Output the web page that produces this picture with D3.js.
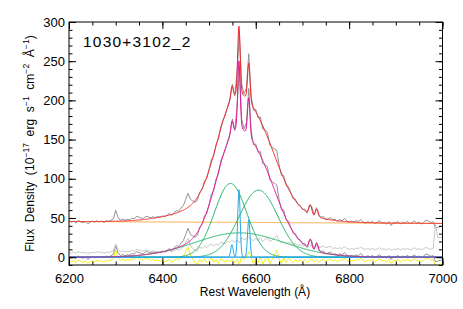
<!DOCTYPE html>
<html>
<head>
<meta charset="utf-8">
<script src="https://cdn.jsdelivr.net/npm/d3@7"></script>
<style>
  body { margin: 0; background: #fff; }
  svg text { font-family: "Liberation Sans", Arial, sans-serif; fill: #000; }
  .frame { fill: none; stroke: #000; stroke-width: 1; }
  .axis path { display: none; }
  .axis line { stroke: #000; }
  .curve { fill: none; stroke-width: 1; stroke-linejoin: round; }
</style>
</head>
<body>
<svg id="chart" width="463" height="309"></svg>
<script>
// spectrum sampled every 5 A, 6200..7000
const waveStart = 6200;
const waveStep = 5;

// fit residual (data - model)
const residual = [
  1, -1, 0.5, -2, 1.5, -0.5, -1.5, 0, -3, -1, 0.5, -1, 1, -0.5, 0.5, -1.5, 1, 0, 1.5, 3,
  14, 5, 1, 2.5, 0.5, 2, 1, 3, 2, 5, 3.5, 2, 1.5, 4, 2.5, 1, 2, 0.5, 1.5, -0.5,
  1, -1, 0.5, 2, -1.5, 1, 3, 1, 4, 6, 12, 18, 8, 3, -2, -4, 2, -1, 3, -2,
  1, 4, -2, 2, -3, 3, 1, -2, 2, -1, 3, -2, 2, -4, 6, 2, 5, 12, 4, -3,
  3, -2, 5, -4, 2, 6, -3, 2, 8, 14, 3, -3, 4, -2, 3, 1, -2, 2, -1, 1.5,
  -1, 2, -2, 1, 3, -1, 2, -2, 1, 2.5, -1, 1, 3, 0, 1.5, -1, 2, 0.5, 4, 1,
  -0.5, 1, 0, 2, 1, 4, 0.5, -1, 1.5, 0, 2, -1, 1, 3, 0, 1, -1.5, 2, -3, 1,
  0.5, 2, -1, 1.5, 0, 2.5, -0.5, 1, 3, 0, 1.5, -1, 2, 4, 3, 1, 2, -6, -5, -4,
  -4
];

// light gray trace, same sampling
const lightFlux = [
  6, 5, 6.5, 5, 7, 6, 5.5, 6, 4.5, 5.5, 6, 5.5, 7, 6, 6.5, 5, 6.5, 6, 7, 8,
  17, 10, 7, 8, 6.5, 7.5, 7, 8.5, 7.5, 10, 9, 8, 7.5, 9.5, 8, 7, 8, 7, 7.5, 6.5,
  7, 6, 7.5, 8.5, 6.5, 8, 10, 9, 11, 13, 18, 24, 15, 11, 9, 8, 13, 11, 14, 12,
  15, 17, 14, 17, 15, 19, 18, 17, 20, 19, 22, 19, 22, 18, 25, 22, 24, 26, 23, 21,
  24, 21, 25, 20, 23, 25, 20, 22, 24, 28, 21, 18, 20, 17, 19, 18, 16, 17, 15, 16,
  14, 15, 13, 14, 15, 13, 14, 12, 13, 14, 12, 13, 14, 11, 12, 11, 12, 11, 13, 11,
  10, 11, 10, 11.5, 11, 13, 10.5, 10, 11, 10, 11, 9.5, 10.5, 12, 10, 10.5, 9, 11, 8.5, 10,
  10, 11, 9.5, 10.5, 10, 11.5, 9.5, 10, 12, 10, 10.5, 9.5, 11, 12.5, 11, 10, 11, 42, 25, 25,
  25
];
const residualOffset = -5;

// continuum (linear)
const contWave = [6200, 7000];
const contFlux = [45.5, 43];

// broad Halpha gaussians
const broadCenter = [6546, 6606, 6565];
const broadAmp = [94, 85.5, 31];
const broadSigma = [34.5, 41.6, 95];

// narrow lines ([NII]6548, Ha, [NII]6583)
const narrowCenter = [6549, 6564, 6585];
const narrowAmp = [16, 86, 48];
const narrowSigma = [2.6, 2.6, 2.6];

// [SII] doublet
const siiCenter = [6717, 6731];
const siiAmp = [12, 10];
const siiSigma = [3, 3];

const xMajor = [6200, 6400, 6600, 6800, 7000];
const yMajor = [0, 50, 100, 150, 200, 250, 300];
const title = "1030+3102_2";

const svg = d3.select("#chart");
const margin = { left: 69, right: 20.5, top: 22, bottom: 44 };
const W = 463, H = 309;
const x = d3.scaleLinear().domain([6200, 7000]).range([margin.left, W - margin.right]);
const y = d3.scaleLinear().domain([-10, 300]).range([H - margin.bottom, margin.top]);

const gauss = (w, c, a, s) => a * Math.exp(-((w - c) ** 2) / (2 * s * s));
const cont = d3.scaleLinear().domain(contWave).range(contFlux);

const grid = d3.range(6200, 7000.5, 1);
const lineModel = (w) => {
  let v = 0;
  broadCenter.forEach((c, i) => (v += gauss(w, c, broadAmp[i], broadSigma[i])));
  narrowCenter.forEach((c, i) => (v += gauss(w, c, narrowAmp[i], narrowSigma[i])));
  siiCenter.forEach((c, i) => (v += gauss(w, c, siiAmp[i], siiSigma[i])));
  return v;
};

const specWave = residual.map((_, i) => waveStart + i * waveStep);

svg.append("clipPath").attr("id", "plot-clip")
  .append("rect")
  .attr("x", x(6200)).attr("y", y(300))
  .attr("width", x(7000) - x(6200)).attr("height", y(-10) - y(300));

const plot = svg.append("g").attr("clip-path", "url(#plot-clip)");
const line = d3.line().x((d) => x(d[0])).y((d) => y(d[1]));

function draw(points, color, width = 1) {
  plot.append("path").attr("class", "curve").attr("stroke", color)
    .attr("stroke-width", width).attr("d", line(points));
}

// observed spectrum and continuum-subtracted spectrum
draw(specWave.map((w, i) => [w, lineModel(w) + cont(w) + residual[i]]), "#939393");
draw(specWave.map((w, i) => [w, lineModel(w) + residual[i]]), "#939393");
draw(specWave.map((w, i) => [w, lightFlux[i]]), "#c8c8c8");
draw(specWave.map((w, i) => [w, residual[i] + residualOffset]), "#f2ee10");

draw(grid.map((w) => [w, cont(w)]), "#f9a53c", 1.1);

broadCenter.forEach((c, i) => {
  draw(grid.map((w) => [w, gauss(w, c, broadAmp[i], broadSigma[i])]), "#22b066");
});
narrowCenter.forEach((c, i) => {
  draw(grid.map((w) => [w, gauss(w, c, narrowAmp[i], narrowSigma[i])]), "#26a8e6");
});

draw(grid.map((w) => [w, lineModel(w)]), "#e3189a", 1.2);
draw(grid.map((w) => [w, lineModel(w) + cont(w)]), "#f0282e", 1.2);

// axes: inward ticks on all four sides
const xMinor = d3.range(6200, 7001, 50);
const yMinor = d3.range(-10, 301, 10);
const plotBottom = H - margin.bottom, plotTop = margin.top;
const plotLeft = margin.left, plotRight = W - margin.right;

function ticks(gen, values, size, pos, labels) {
  const g = svg.append("g").attr("class", "axis").attr("transform", pos)
    .call(gen.tickValues(values).tickSize(size).tickFormat(labels ? d3.format("d") : ""));
  return g;
}

ticks(d3.axisBottom(x), xMinor, -3.5, `translate(0,${plotBottom})`, false);
ticks(d3.axisBottom(x), xMajor, -7, `translate(0,${plotBottom})`, true)
  .selectAll("text").attr("font-size", 13).attr("y", 9).attr("dy", "0.71em");
ticks(d3.axisTop(x), xMinor, -3.5, `translate(0,${plotTop})`, false);
ticks(d3.axisTop(x), xMajor, -7, `translate(0,${plotTop})`, false);

ticks(d3.axisLeft(y), yMinor, -3.5, `translate(${plotLeft},0)`, false);
ticks(d3.axisLeft(y), yMajor, -7, `translate(${plotLeft},0)`, true)
  .selectAll("text").attr("font-size", 13).attr("x", -4);
ticks(d3.axisRight(y), yMinor, -3.5, `translate(${plotRight},0)`, false);
ticks(d3.axisRight(y), yMajor, -7, `translate(${plotRight},0)`, false);

svg.selectAll(".axis text").style("font-family", "'Liberation Sans', Arial, sans-serif");

svg.append("rect").attr("class", "frame")
  .attr("x", plotLeft).attr("y", plotTop)
  .attr("width", plotRight - plotLeft).attr("height", plotBottom - plotTop);

svg.append("text").attr("x", 83).attr("y", 47).attr("font-size", 15.5)
  .attr("letter-spacing", 1.2).text(title);

svg.append("text").attr("x", 255).attr("y", 296)
  .attr("text-anchor", "middle").attr("font-size", 12).text("Rest Wavelength (\u00c5)");

const yl = svg.append("text")
  .attr("transform", "translate(34,143.5) rotate(-90)")
  .attr("text-anchor", "middle").attr("font-size", 12)
  .attr("letter-spacing", 0.1).attr("word-spacing", 3);
const parts = [
  ["Flux Density (10", 0], ["\u221217", 1], [" erg s", 0], ["\u22121", 1],
  [" cm", 0], ["\u22122", 1], [" \u00c5", 0], ["\u22121", 1], [")", 0],
];
let prevSup = false;
parts.forEach(([t, sup]) => {
  const ts = yl.append("tspan").text(t);
  if (sup) ts.attr("font-size", 8.5).attr("dy", -5);
  else if (prevSup) ts.attr("dy", 5);
  prevSup = !!sup;
});
</script>
</body>
</html>
